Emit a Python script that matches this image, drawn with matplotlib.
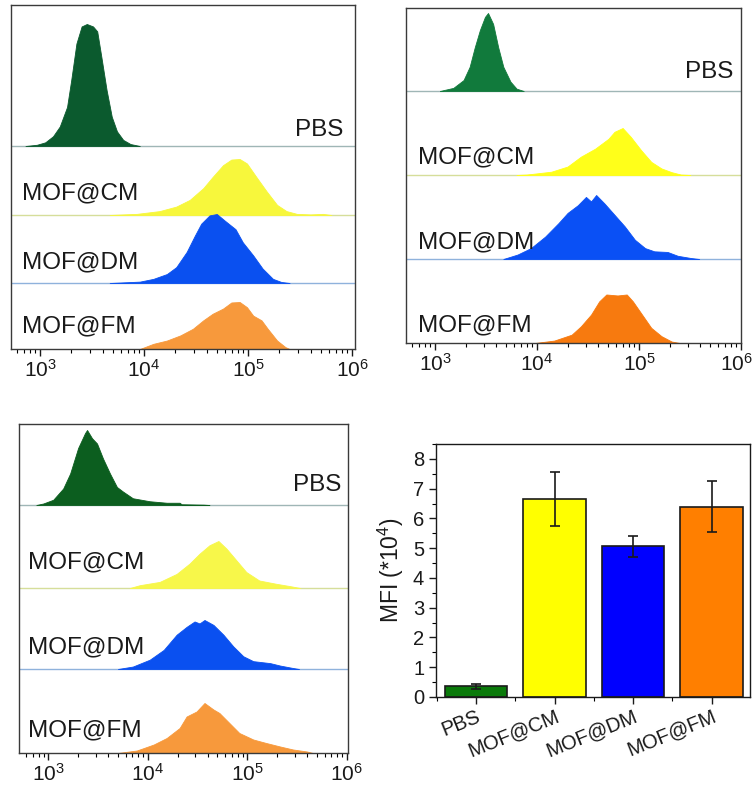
import numpy as np
import matplotlib
matplotlib.use("Agg")
import matplotlib.pyplot as plt
from matplotlib.transforms import ScaledTranslation
from matplotlib.ticker import LogLocator, LogFormatterMathtext, NullFormatter, MultipleLocator

plt.rcParams['font.family'] = ['Liberation Sans', 'DejaVu Sans']
plt.rcParams['mathtext.default'] = 'regular'

samples = ["PBS", "MOF@CM", "MOF@DM", "MOF@FM"]
decades = [1e3, 1e4, 1e5, 1e6]

# histogram outlines: log10(intensity) and height relative to peak
# panel 1 (top left)
p1_pbs_x = [2.86, 2.97, 3.05, 3.125, 3.19, 3.26, 3.30, 3.35, 3.40, 3.45, 3.51, 3.55, 3.59, 3.64, 3.69, 3.74, 3.80, 3.87, 3.96]
p1_pbs_h = [0, 0.01, 0.03, 0.08, 0.16, 0.32, 0.54, 0.84, 0.98, 1.0, 0.98, 0.94, 0.73, 0.46, 0.24, 0.12, 0.05, 0.016, 0]
p1_cm_x = [3.67, 3.93, 4.15, 4.31, 4.44, 4.57, 4.66, 4.76, 4.84, 4.92, 4.99, 5.08, 5.18, 5.28, 5.37, 5.47, 5.60, 5.72, 5.80]
p1_cm_h = [0, 0.02, 0.07, 0.15, 0.27, 0.48, 0.68, 0.89, 0.99, 1.0, 0.92, 0.68, 0.42, 0.18, 0.07, 0.02, 0.01, 0.02, 0]
p1_dm_x = [3.67, 3.96, 4.09, 4.22, 4.31, 4.41, 4.49, 4.55, 4.63, 4.70, 4.78, 4.88, 4.95, 5.05, 5.14, 5.24, 5.32, 5.40]
p1_dm_h = [0, 0.02, 0.06, 0.13, 0.23, 0.45, 0.69, 0.86, 0.98, 1.0, 0.90, 0.78, 0.59, 0.40, 0.21, 0.06, 0.015, 0]
p1_fm_x = [3.96, 4.09, 4.22, 4.35, 4.47, 4.57, 4.66, 4.76, 4.84, 4.92, 4.99, 5.05, 5.13, 5.19, 5.28, 5.36, 5.40]
p1_fm_h = [0, 0.11, 0.18, 0.29, 0.43, 0.61, 0.75, 0.86, 0.99, 1.0, 0.89, 0.71, 0.61, 0.43, 0.18, 0.04, 0]
p1_peaks = [122, 56, 69, 47]

# panel 2 (top right)
p2_pbs_x = [3.05, 3.08, 3.18, 3.28, 3.34, 3.39, 3.44, 3.49, 3.52, 3.57, 3.62, 3.67, 3.74, 3.80, 3.87]
p2_pbs_h = [0, 0.01, 0.04, 0.14, 0.31, 0.56, 0.78, 0.95, 1.0, 0.86, 0.56, 0.31, 0.12, 0.03, 0]
p2_cm_x = [3.80, 3.90, 4.14, 4.30, 4.43, 4.57, 4.70, 4.76, 4.84, 4.92, 5.02, 5.12, 5.22, 5.32, 5.41, 5.50]
p2_cm_h = [0, 0.01, 0.07, 0.18, 0.39, 0.56, 0.77, 0.92, 1.0, 0.81, 0.53, 0.28, 0.14, 0.06, 0.01, 0]
p2_dm_x = [3.67, 3.81, 3.94, 4.08, 4.21, 4.30, 4.40, 4.48, 4.53, 4.58, 4.66, 4.76, 4.86, 4.96, 5.06, 5.15, 5.28, 5.38, 5.51, 5.59]
p2_dm_h = [0, 0.07, 0.17, 0.35, 0.56, 0.72, 0.84, 0.97, 0.90, 1.0, 0.87, 0.69, 0.51, 0.30, 0.17, 0.12, 0.11, 0.05, 0.015, 0]
p2_fm_x = [3.98, 4.17, 4.34, 4.43, 4.53, 4.61, 4.68, 4.79, 4.88, 4.94, 5.02, 5.12, 5.22, 5.32, 5.40]
p2_fm_h = [0, 0.05, 0.17, 0.34, 0.58, 0.85, 0.99, 0.97, 0.99, 0.85, 0.61, 0.31, 0.14, 0.03, 0]
p2_peaks = [78, 47, 64, 49]

# panel 3 (bottom left)
p3_pbs_x = [2.88, 2.95, 3.05, 3.15, 3.22, 3.30, 3.37, 3.39, 3.44, 3.49, 3.55, 3.62, 3.69, 3.75, 3.85, 4.02, 4.19, 4.32, 4.34, 4.56, 4.62]
p3_pbs_h = [0, 0.02, 0.07, 0.22, 0.42, 0.76, 0.96, 1.0, 0.89, 0.82, 0.62, 0.42, 0.24, 0.18, 0.09, 0.05, 0.03, 0.03, 0.01, 0.005, 0]
p3_cm_x = [3.82, 3.92, 4.12, 4.29, 4.42, 4.52, 4.62, 4.71, 4.79, 4.89, 4.99, 5.12, 5.29, 5.43, 5.53]
p3_cm_h = [0, 0.06, 0.13, 0.30, 0.52, 0.73, 0.91, 1.0, 0.84, 0.59, 0.34, 0.16, 0.09, 0.04, 0]
p3_dm_x = [3.70, 3.85, 4.02, 4.16, 4.29, 4.39, 4.47, 4.52, 4.57, 4.66, 4.76, 4.86, 4.96, 5.06, 5.23, 5.33, 5.46, 5.52]
p3_dm_h = [0, 0.05, 0.19, 0.39, 0.70, 0.86, 0.97, 0.93, 1.0, 0.90, 0.70, 0.46, 0.26, 0.16, 0.12, 0.07, 0.02, 0]
p3_fm_x = [3.70, 3.89, 4.06, 4.19, 4.32, 4.39, 4.49, 4.57, 4.66, 4.72, 4.82, 4.92, 5.06, 5.19, 5.33, 5.46, 5.60, 5.66]
p3_fm_h = [0, 0.05, 0.17, 0.30, 0.50, 0.73, 0.83, 1.0, 0.87, 0.80, 0.60, 0.40, 0.27, 0.20, 0.13, 0.07, 0.03, 0]
p3_peaks = [75, 47, 49, 50]

# bar chart: mean fluorescence intensity (*10^4)
mfi = [0.36, 6.65, 5.07, 6.40]
mfi_err = [0.08, 0.90, 0.35, 0.87]

fig = plt.figure(figsize=(7.56, 7.89), dpi=100)


def hist_panel(rect, xlim, height, bases, peaks, curves, colors, label_y, lx_left, lx_right, last_shift=0):
    ax = fig.add_axes(rect)
    ax.set_xscale('log')
    ax.set_xlim(10 ** xlim[0], 10 ** xlim[1])
    ax.set_ylim(0, height)
    base_cols = ['#9fb6b6', '#d6de9a', '#8fb2dc', None]
    for i, (lx, h) in enumerate(curves):
        x = 10 ** np.array(lx)
        y = bases[i] + peaks[i] * np.array(h)
        ax.fill_between(x, bases[i], y, color=colors[i], lw=0.6, edgecolor=colors[i])
        if base_cols[i]:
            ax.axhline(bases[i], color=base_cols[i], lw=1.0, zorder=0)
        if i == 0:
            ax.text(lx_right, label_y[i], samples[i], transform=ax.get_yaxis_transform(),
                    ha='right', va='center', fontsize=17.5, color='#1a1a1a')
        else:
            ax.text(lx_left, label_y[i], samples[i], transform=ax.get_yaxis_transform(),
                    ha='left', va='center', fontsize=17.5, color='#1a1a1a')
    ax.set_yticks([])
    ax.set_xticks(decades)
    ax.xaxis.set_major_formatter(LogFormatterMathtext())
    ax.xaxis.set_minor_locator(LogLocator(base=10, subs=np.arange(2, 10), numticks=20))
    ax.xaxis.set_minor_formatter(NullFormatter())
    ax.tick_params(axis='x', which='major', direction='out', length=5, width=1.0, labelsize=15, pad=2, colors='#1a1a1a')
    ax.tick_params(axis='x', which='minor', direction='out', length=3, width=0.8)
    if last_shift:
        lab = ax.xaxis.get_major_ticks()[-1].label1
        lab.set_transform(lab.get_transform() + ScaledTranslation(last_shift / 100, 0, fig.dpi_scale_trans))
    for s in ax.spines.values():
        s.set_color('#3a3a3a')
        s.set_linewidth(1.0)
    return ax


hist_panel([11 / 756, 1 - 349 / 789, 344 / 756, 344 / 789], (2.721, 6.029), 344,
           [203, 134, 66, 0], p1_peaks,
           [(p1_pbs_x, p1_pbs_h), (p1_cm_x, p1_cm_h), (p1_dm_x, p1_dm_h), (p1_fm_x, p1_fm_h)],
           ['#0b5a2e', '#f7f73c', '#0a50f0', '#f7993c'],
           [219, 156, 87, 23], 0.031, 0.965)

hist_panel([406 / 756, 1 - 343 / 789, 335 / 756, 335 / 789], (2.716, 6.0), 335,
           [252, 168, 84, 0], p2_peaks,
           [(p2_pbs_x, p2_pbs_h), (p2_cm_x, p2_cm_h), (p2_dm_x, p2_dm_h), (p2_fm_x, p2_fm_h)],
           ['#117a3c', '#ffff1a', '#0a50f5', '#f77a0f'],
           [271, 186, 101, 18], 0.036, 0.976, last_shift=-5)

hist_panel([19 / 756, 1 - 753 / 789, 329 / 756, 329 / 789], (2.706, 6.012), 329,
           [248, 165, 84, 0], p3_peaks,
           [(p3_pbs_x, p3_pbs_h), (p3_cm_x, p3_cm_h), (p3_dm_x, p3_dm_h), (p3_fm_x, p3_fm_h)],
           ['#0c5e1f', '#f7f74a', '#0a50f0', '#f7993c'],
           [268, 191, 106, 23], 0.028, 0.981)

# bar chart
ax = fig.add_axes([436 / 756, 1 - 697 / 789, 314 / 756, 253 / 789])
pos = np.arange(len(samples))
ax.bar(pos, mfi, width=0.8, color=['#0a7a0a', '#ffff00', '#0000ff', '#ff7f00'],
       edgecolor='#1a1a1a', linewidth=1.2, yerr=mfi_err, capsize=3.5,
       error_kw=dict(ecolor='#1a1a1a', elinewidth=1.2, capthick=1.2))
ax.set_xlim(-0.51, 3.49)
ax.set_ylim(0, 8.5)
ax.set_xticks(pos)
ax.set_xticklabels(samples, rotation=22, ha='right', rotation_mode='anchor')
ax.xaxis.set_minor_locator(MultipleLocator(0.5))
ax.yaxis.set_major_locator(MultipleLocator(1))
ax.yaxis.set_minor_locator(MultipleLocator(0.5))
ax.tick_params(axis='both', which='major', direction='out', length=5, width=1.0, labelsize=14.5, colors='#1a1a1a')
ax.tick_params(axis='both', which='minor', direction='out', length=3, width=0.8)
ax.tick_params(axis='x', which='major', pad=2)
ax.set_ylabel('MFI (*10$^{4}$)', fontsize=16.5, color='#1a1a1a', labelpad=5)
for s in ax.spines.values():
    s.set_linewidth(1.0)
    s.set_color('#1a1a1a')

fig.savefig('out.png', dpi=100)
